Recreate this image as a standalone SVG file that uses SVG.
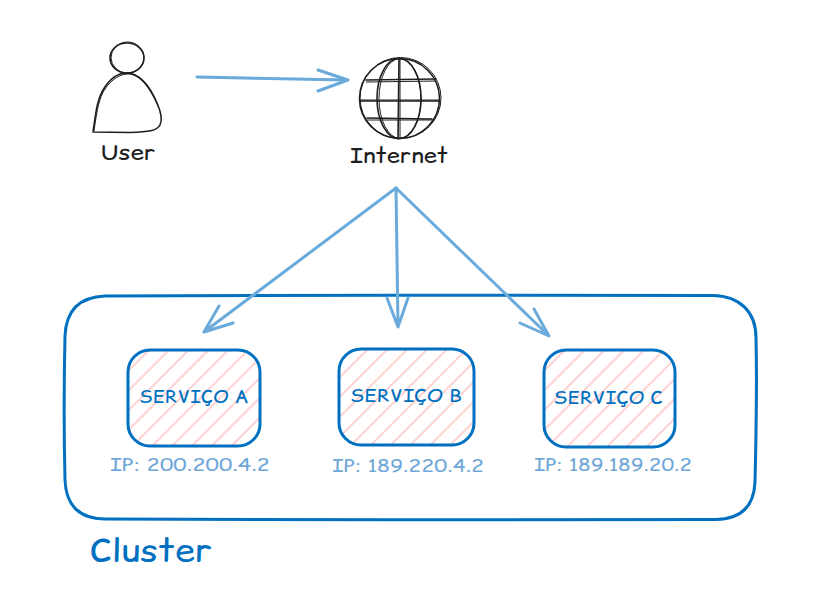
<svg xmlns="http://www.w3.org/2000/svg" width="813" height="597" viewBox="0 0 813 597">
<style>
text{font-family:"Comic Relief","Lato","Liberation Sans",sans-serif}
.ink{fill:none;stroke:#1e1e1e;stroke-width:1.6;stroke-linecap:round;stroke-linejoin:round}
.thin{fill:none;stroke:#1e1e1e;stroke-width:1}
.lbl{fill:#1e1e1e;font-size:21px}
.blue{fill:none;stroke:#0070c0;stroke-width:3;stroke-linecap:round}
.svc{fill:#0070c0;font-size:17px}
.ip{fill:#6fa8d8;font-size:17px}
.conn{fill:none;stroke:#6aabdc;stroke-width:3;stroke-linecap:round;stroke-linejoin:round}
</style>
<defs>
<pattern id="h" width="14" height="14" patternUnits="userSpaceOnUse" patternTransform="rotate(-45)">
<rect width="14" height="14" fill="#fff"/><line x1="0" y1="3" x2="14" y2="3" stroke="#ffc9c9" stroke-width="1.7"/>
</pattern>
</defs>
<rect width="813" height="597" fill="#fff"/>
<g id="user">
<ellipse class="ink" cx="127" cy="58" rx="17" ry="15"/>
<ellipse class="thin" cx="127.500" cy="57.500" rx="16.500" ry="15.500"/>
<path class="ink" d="M93 132C96 112 97 100 103 90C110 78 118 73 127 73C138 73 149 84 157 103C161 112 163 119 160 125C157 131 148 132 130 132.500Z"/>
<path class="thin" d="M94 131C97 110 99 98 105 89C112 79 120 74 128 74C139 74 149 86 158 106"/>
<text class="lbl" x="128" y="160" text-anchor="middle" textLength="55" lengthAdjust="spacingAndGlyphs">User</text>
</g>
<g id="internet">
<circle class="ink" cx="399.500" cy="98.500" r="40"/>
<circle class="thin" cx="400.500" cy="98" r="40.500"/>
<ellipse class="ink" cx="399" cy="98.500" rx="22" ry="40"/>
<ellipse class="thin" cx="400" cy="98.500" rx="21" ry="40"/>
<path class="ink" d="M399 59L398 139M360 101H439M366 80L436 79M367 118L432 119"/>
<path class="thin" d="M400 59L400 139M366 82L436 81M367 120L433 120M361 100L439 100"/>
<text class="lbl" x="399" y="163" text-anchor="middle" textLength="98" lengthAdjust="spacingAndGlyphs">Internet</text>
</g>
<g id="cluster">
<path class="blue" d="M105 296C300 296 520 294 713 295.500C740 296 756 312 756 338C757 380 756 440 755 482C754 506 742 519 716 519.500C530 520 300 520 106 519C80 519 66 506 65 480C64 440 64 380 65 336C66 310 80 297 105 296Z"/>
<text x="90" y="561" fill="#0070c0" font-size="31" textLength="122" lengthAdjust="spacingAndGlyphs">Cluster</text>
</g>
<g id="servico-a">
<rect x="128" y="350" width="132" height="96" rx="22" fill="url(#h)"/>
<rect class="blue" x="128" y="350" width="132" height="96" rx="22"/>
<text class="svc" x="194" y="403" text-anchor="middle" textLength="110" lengthAdjust="spacingAndGlyphs">SERVIÇO A</text>
<text class="ip" x="190" y="471" text-anchor="middle" textLength="160" lengthAdjust="spacingAndGlyphs">IP: 200.200.4.2</text>
</g>
<g id="servico-b">
<rect x="339" y="349" width="135" height="96" rx="22" fill="url(#h)"/>
<rect class="blue" x="339" y="349" width="135" height="96" rx="22"/>
<text class="svc" x="406" y="402" text-anchor="middle" textLength="112" lengthAdjust="spacingAndGlyphs">SERVIÇO B</text>
<text class="ip" x="408" y="472" text-anchor="middle" textLength="152" lengthAdjust="spacingAndGlyphs">IP: 189.220.4.2</text>
</g>
<g id="servico-c">
<rect x="544" y="350" width="131" height="97" rx="22" fill="url(#h)"/>
<rect class="blue" x="544" y="350" width="131" height="97" rx="22"/>
<text class="svc" x="608" y="404" text-anchor="middle" textLength="109" lengthAdjust="spacingAndGlyphs">SERVIÇO C</text>
<text class="ip" x="613" y="471" text-anchor="middle" textLength="158" lengthAdjust="spacingAndGlyphs">IP: 189.189.20.2</text>
</g>
<g id="connectors">
<path class="conn" d="M197 77L348 80M318 70L348 80L318 91"/>
<path class="conn" d="M396 188L204 332M233 323L204 332L219 306"/>
<path class="conn" d="M396 188L398 327M387 298L398 327L408 298"/>
<path class="conn" d="M396 188L549 336M520 323L549 336L534 309"/>
</g>
</svg>
